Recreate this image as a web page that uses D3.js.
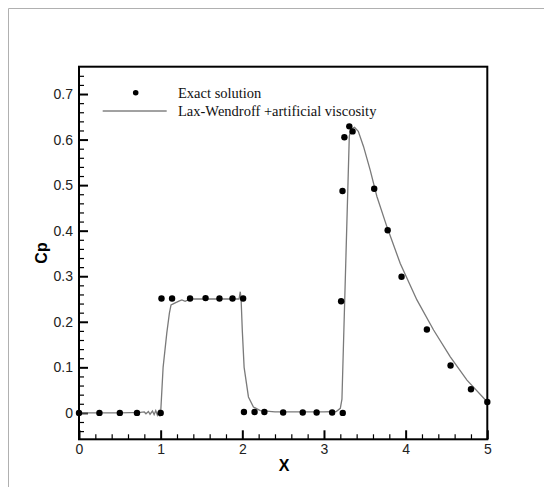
<!DOCTYPE html>
<html>
<head>
<meta charset="utf-8">
<script src="https://cdn.jsdelivr.net/npm/d3@7"></script>
<style>
  body { margin: 0; background: #fff; }
  svg { display: block; }
</style>
</head>
<body>
<div id="chart"></div>
<script>
// exact solution points [x, Cp]
const exactX = [0, 0.25, 0.5, 0.71, 1.0, 1.01, 1.14, 1.36, 1.55, 1.72, 1.88, 2.01, 2.02, 2.15, 2.27, 2.5, 2.74, 2.91, 3.1, 3.23,
  3.21, 3.227, 3.25, 3.31, 3.35, 3.615, 3.78, 3.95, 4.26, 4.55, 4.8, 5.0];
const exactCp = [0, 0, 0, 0, 0, 0.251, 0.251, 0.251, 0.252, 0.251, 0.251, 0.251, 0.002, 0.002, 0.002, 0.001, 0.001, 0.001, 0.001, 0.0,
  0.245, 0.487, 0.605, 0.629, 0.618, 0.492, 0.401, 0.299, 0.183, 0.104, 0.052, 0.024];

// Lax-Wendroff + artificial viscosity curve [x, Cp]
const lwX = [0, 0.5, 0.75, 0.8, 0.82, 0.85, 0.87, 0.9, 0.92, 0.94, 0.96, 0.98, 0.99, 1.0,
  1.03, 1.075, 1.107, 1.127, 1.16, 1.197, 1.23, 1.26, 1.3, 1.36, 1.5, 1.7, 1.96, 1.975, 1.985,
  2.0, 2.022, 2.075, 2.136, 2.22, 2.4, 3.0, 3.15, 3.2, 3.22,
  3.31, 3.33, 3.374, 3.42, 3.484, 3.566, 3.648, 3.77, 3.934, 4.138, 4.342, 4.547, 4.751, 5.0];
const lwCp = [0, 0, 0.001, 0.002, -0.002, 0.003, -0.003, 0.004, -0.004, 0.005, -0.005, 0.004, -0.008, 0.0,
  0.1, 0.175, 0.219, 0.237, 0.24, 0.243, 0.246, 0.248, 0.245, 0.25, 0.25, 0.25, 0.25, 0.266, 0.25,
  0.18, 0.1, 0.035, 0.013, 0.005, 0.002, 0.002, 0.003, 0.01, 0.03,
  0.607, 0.623, 0.627, 0.618, 0.585, 0.533, 0.475, 0.409, 0.328, 0.248, 0.182, 0.123, 0.072, 0.024];

const xTicks = [0, 1, 2, 3, 4, 5];
const yTicks = [0, 0.1, 0.2, 0.3, 0.4, 0.5, 0.6, 0.7];
const legendLabels = ["Exact solution", "Lax-Wendroff +artificial viscosity"];

const width = 544, height = 487;
const svg = d3.select("#chart").append("svg").attr("width", width).attr("height", height);

// image border
svg.append("path").attr("d", `M8.5,${height} V8.5 H${width}`)
  .attr("fill", "none").attr("stroke", "#b0b0b0").attr("stroke-width", 1);

const xScale = d3.scaleLinear().domain([0, 5]).range([79, 487.3]);
const yScale = d3.scaleLinear().domain([-0.058, 0.76]).range([439.3, 66.7]);

const xMinor = d3.range(0, 5.001, 0.2).map(v => +v.toFixed(2)).filter(v => !xTicks.includes(v));
const yMinor = d3.range(-0.04, 0.7401, 0.02).map(v => +v.toFixed(2)).filter(v => !yTicks.includes(v));

const tickFont = "Liberation Sans, Arial, sans-serif";

// minor ticks
svg.append("g").attr("transform", `translate(0,${yScale.range()[0]})`)
  .call(d3.axisBottom(xScale).tickValues(xMinor).tickSize(-5).tickFormat(""))
  .call(g => g.select(".domain").remove())
  .call(g => g.selectAll("line").attr("stroke", "#000").attr("stroke-width", 1.2));
svg.append("g").attr("transform", `translate(${xScale.range()[0]},0)`)
  .call(d3.axisLeft(yScale).tickValues(yMinor).tickSize(-5).tickFormat(""))
  .call(g => g.select(".domain").remove())
  .call(g => g.selectAll("line").attr("stroke", "#000").attr("stroke-width", 1.2));

// major ticks
svg.append("g").attr("transform", `translate(0,${yScale.range()[0]})`)
  .call(d3.axisBottom(xScale).tickValues(xTicks).tickSize(-9).tickFormat(d3.format("d")))
  .call(g => g.select(".domain").remove())
  .call(g => g.selectAll("line").attr("stroke", "#000").attr("stroke-width", 2))
  .call(g => g.selectAll("text").attr("y", 5).attr("fill", "#222")
    .attr("font-family", tickFont).attr("font-size", 14));
svg.append("g").attr("transform", `translate(${xScale.range()[0]},0)`)
  .call(d3.axisLeft(yScale).tickValues(yTicks).tickSize(-9).tickFormat(d => d === 0 ? "0" : d3.format(".1f")(d)))
  .call(g => g.select(".domain").remove())
  .call(g => g.selectAll("line").attr("stroke", "#000").attr("stroke-width", 2))
  .call(g => g.selectAll("text").attr("x", -6).attr("fill", "#222")
    .attr("font-family", tickFont).attr("font-size", 14));

// frame
svg.append("rect")
  .attr("x", xScale.range()[0]).attr("y", yScale.range()[1])
  .attr("width", xScale.range()[1] - xScale.range()[0])
  .attr("height", yScale.range()[0] - yScale.range()[1])
  .attr("fill", "none").attr("stroke", "#000").attr("stroke-width", 2);

// simulation line
const lwData = lwX.map((x, i) => [x, lwCp[i]]);
const lineGenerator = d3.line().x(d => xScale(d[0])).y(d => yScale(d[1]));
svg.append("path").datum(lwData)
  .attr("d", lineGenerator)
  .attr("fill", "none").attr("stroke", "#7a7a7a").attr("stroke-width", 1.3);

// exact points
const exactData = exactX.map((x, i) => [x, exactCp[i]]);
svg.append("g").selectAll("circle").data(exactData).enter()
  .append("circle")
  .attr("cx", d => xScale(d[0]))
  .attr("cy", d => yScale(d[1]))
  .attr("r", 3.2)
  .attr("fill", "#000");

// axis titles
svg.append("text").attr("x", 284).attr("y", 471).attr("text-anchor", "middle")
  .attr("font-family", tickFont).attr("font-weight", "bold").attr("font-size", 16).text("X");
svg.append("text").attr("transform", "translate(47,253) rotate(-90)").attr("text-anchor", "middle")
  .attr("font-family", tickFont).attr("font-weight", "bold").attr("font-size", 16).text("Cp");

// legend
const legend = svg.append("g").attr("font-family", "Liberation Serif, Times New Roman, serif").attr("font-size", 14.5).attr("fill", "#111");
legend.append("circle").attr("cx", 135.7).attr("cy", 92.7).attr("r", 2.8).attr("fill", "#000");
legend.append("text").attr("x", 178).attr("y", 97.5).text(legendLabels[0]);
legend.append("line").attr("x1", 102.7).attr("x2", 166.7).attr("y1", 111).attr("y2", 111)
  .attr("stroke", "#444").attr("stroke-width", 1);
legend.append("text").attr("x", 178).attr("y", 115.5).text(legendLabels[1]);
</script>
</body>
</html>
